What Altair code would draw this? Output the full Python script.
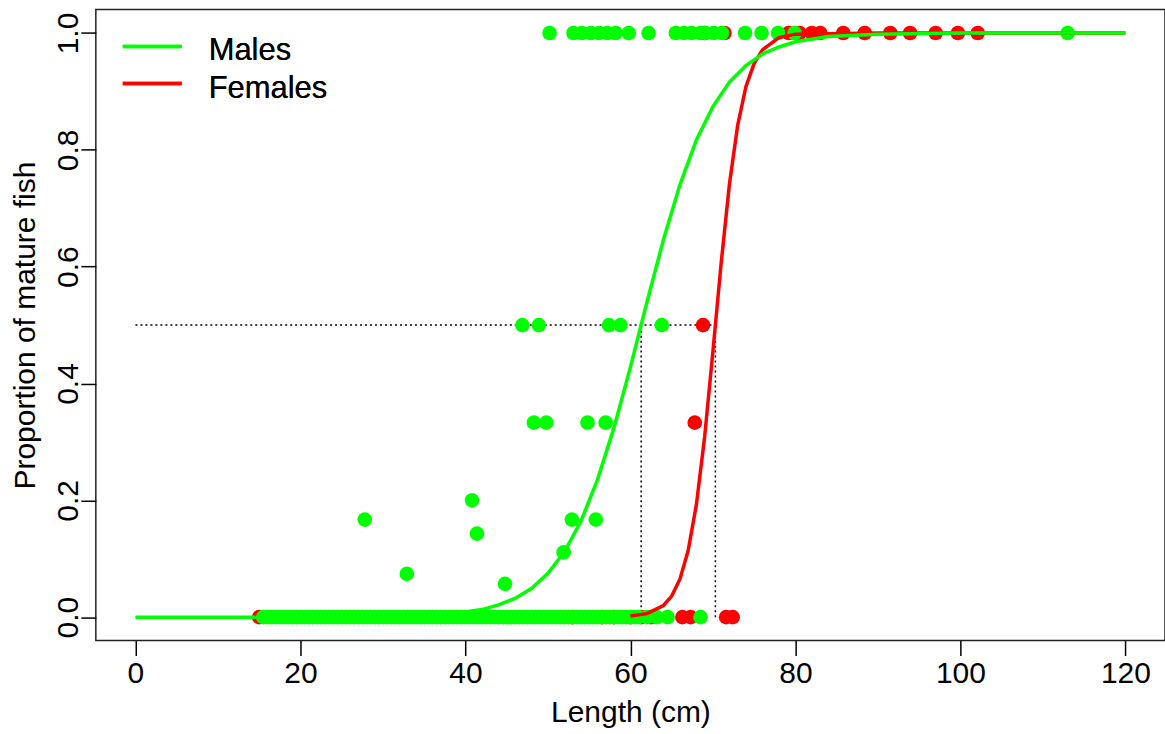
import altair as alt
import pandas as pd

# ---- maturity observations (proportion mature per length class) ----
male_len_zero = [15.5, 16.0, 16.5, 17.0, 17.5, 18.0, 18.5, 19.0, 19.5, 20.0, 20.5, 21.0, 21.5, 22.0,
                 22.5, 23.0, 23.5, 24.0, 24.5, 25.0, 25.5, 26.0, 26.5, 27.0, 27.5, 28.0, 28.5, 29.0,
                 29.5, 30.0, 30.5, 31.0, 31.5, 32.0, 32.5, 33.0, 33.5, 34.0, 34.5, 35.0, 35.5, 36.0,
                 36.5, 37.0, 37.5, 38.0, 38.5, 39.0, 39.5, 40.0, 40.5, 41.0, 41.5, 42.0, 42.5, 43.0,
                 43.5, 44.0, 44.5, 45.0, 45.5, 46.0, 46.5, 47.0, 47.5, 48.0, 48.5, 49.0, 49.5, 50.0,
                 50.5, 51.0, 51.5, 52.0, 52.5, 53.0, 53.5, 54.0, 54.5, 55.0, 55.5, 56.0, 56.5, 57.0,
                 57.5, 58.0, 58.5, 59.0, 59.5, 60.0, 60.5, 61.0, 62.0, 63.2, 64.5, 68.5]
male_len_one = [50.2, 53.1, 54.1, 55.2, 56.2, 57.2, 58.2, 59.8, 62.2, 65.5, 66.5, 67.4, 68.5, 69.1,
                70.1, 71.1, 73.9, 75.9, 77.9, 79.9, 113.0]
male_len_mid = [46.9, 48.9, 57.4, 58.8, 63.8, 48.3, 49.8, 54.8, 57.0,
                27.8, 40.8, 41.4, 32.9, 44.8, 52.9, 51.9, 55.8]
male_prop_mid = [0.5, 0.5, 0.5, 0.5, 0.5, 0.333, 0.333, 0.333, 0.333,
                 0.167, 0.2, 0.143, 0.074, 0.057, 0.167, 0.111, 0.167]

female_len_zero = [15.0, 53.0, 56.6, 58.0, 60.0, 61.3, 62.5, 66.3, 67.3, 71.6, 72.4]
female_len_one = [69.0, 71.4, 79.2, 80.5, 82.0, 83.0, 85.8, 88.4, 91.5, 93.9, 97.0, 99.7, 102.1]
female_len_mid = [68.8, 67.8]
female_prop_mid = [0.5, 0.333]

# ---- fitted maturity ogives ----
male_curve_len = [0, 10, 20, 30, 36, 40, 42, 44, 46, 48, 50, 52, 54, 56, 58, 60, 62, 64, 66, 68,
                  70, 72, 74, 76, 78, 80, 84, 90, 100, 110, 120]
male_curve_p = [0.000, 0.000, 0.000, 0.001, 0.004, 0.009, 0.013, 0.021, 0.032, 0.049, 0.075, 0.112,
                0.164, 0.235, 0.324, 0.428, 0.539, 0.646, 0.740, 0.817, 0.874, 0.916, 0.944, 0.964,
                0.976, 0.985, 0.994, 0.998, 1.000, 1.000, 1.000]
# female ogive: flat at zero (hidden under the male band) until ~60 cm
female_curve_len = [60, 62, 64, 65, 66, 67, 68, 69, 70, 71, 72, 73, 74, 75, 76, 78,
                    80, 90, 100, 120]
female_curve_p = [0.002, 0.006, 0.020, 0.036, 0.065, 0.114, 0.193, 0.309,
                  0.455, 0.606, 0.741, 0.842, 0.908, 0.948, 0.971, 0.992, 0.998, 1.000, 1.000, 1.000]

# ---- length at 50% maturity ----
l50_male = 61.3
l50_female = 70.3

FONT = "Liberation Sans"
GREEN = "#00FF00"
RED = "#FF0000"

males_pts = pd.DataFrame({
    "length": male_len_zero + male_len_one + male_len_mid,
    "prop": [0.0] * len(male_len_zero) + [1.0] * len(male_len_one) + male_prop_mid,
})
females_pts = pd.DataFrame({
    "length": female_len_zero + female_len_one + female_len_mid,
    "prop": [0.0] * len(female_len_zero) + [1.0] * len(female_len_one) + female_prop_mid,
})
males_fit = pd.DataFrame({"length": male_curve_len, "prop": male_curve_p})
females_fit = pd.DataFrame({"length": female_curve_len, "prop": female_curve_p})
ref_lines = pd.DataFrame({
    "x": [0.0, l50_male, l50_female],
    "x2": [l50_female, l50_male, l50_female],
    "y": [0.5, 0.0, 0.0],
    "y2": [0.5, 0.5, 0.5],
})

xscale = alt.Scale(domain=[-4.8, 124.8], nice=False, zero=False)
yscale = alt.Scale(domain=[-0.04, 1.04], nice=False, zero=False)

xaxis = alt.Axis(
    values=[0, 20, 40, 60, 80, 100, 120], title="Length (cm)", grid=False, domain=False,
    tickSize=15, tickWidth=1.5, tickColor="black", labelPadding=3,
    labelFont=FONT, labelFontSize=30, labelColor="black", labelBaseline="top",
    titleFont=FONT, titleFontSize=30, titleFontWeight="normal", titleColor="black",
    titleBaseline="alphabetic", titleY=81,
)
yaxis = alt.Axis(
    values=[0, 0.2, 0.4, 0.6, 0.8, 1.0], format=".1f", title="Proportion of mature fish",
    grid=False, domain=False, tickSize=15, tickWidth=1.5, tickColor="black", labelPadding=3,
    labelFont=FONT, labelFontSize=30, labelColor="black", labelAngle=270,
    labelAlign="center", labelBaseline="alphabetic",
    titleFont=FONT, titleFontSize=30, titleFontWeight="normal", titleColor="black",
    titleAngle=270, titleBaseline="alphabetic", titleAlign="center", titleX=-61, titleY=316,
)

refs = alt.Chart(ref_lines).mark_rule(color="black", strokeWidth=1.5, strokeDash=[2, 3]).encode(
    x=alt.X("x:Q", scale=xscale, axis=xaxis),
    x2="x2:Q",
    y=alt.Y("y:Q", scale=yscale, axis=yaxis),
    y2="y2:Q",
)

def points(df, color):
    return alt.Chart(df).mark_circle(size=215, opacity=1, color=color).encode(
        x=alt.X("length:Q", scale=xscale),
        y=alt.Y("prop:Q", scale=yscale),
    )

def curve(df, color):
    return alt.Chart(df).mark_line(color=color, strokeWidth=3.5).encode(
        x=alt.X("length:Q", scale=xscale),
        y=alt.Y("prop:Q", scale=yscale),
        order="length:Q",
    )

# legend drawn in pixel space at the upper left of the panel
legend_rows = pd.DataFrame({"label": ["Males", "Females"]})
leg_m_line = alt.Chart(legend_rows).mark_rule(color=GREEN, strokeWidth=3.5).encode(
    x=alt.value(27), x2=alt.value(86), y=alt.value(37)
)
leg_f_line = alt.Chart(legend_rows).mark_rule(color=RED, strokeWidth=3.5).encode(
    x=alt.value(27), x2=alt.value(86), y=alt.value(74)
)
leg_m_text = alt.Chart(legend_rows).mark_text(
    font=FONT, fontSize=31, align="left", baseline="alphabetic", color="black"
).encode(x=alt.value(113), y=alt.value(50), text=alt.value("Males"))
leg_f_text = alt.Chart(legend_rows).mark_text(
    font=FONT, fontSize=31, align="left", baseline="alphabetic", color="black"
).encode(x=alt.value(113), y=alt.value(89), text=alt.value("Females"))

chart = alt.layer(
    refs,
    points(females_pts, RED),
    points(males_pts, GREEN),
    curve(females_fit, RED),
    curve(males_fit, GREEN),
    leg_m_line, leg_f_line, leg_m_text, leg_f_text,
).properties(
    width=1071, height=632,
    autosize=alt.AutoSizeParams(type="none"),
    padding={"left": 96, "top": 9, "right": 0, "bottom": 93},
    background="white",
).configure_view(stroke="#222222", strokeWidth=1.5)

chart.save("out.html", embed_options={"renderer": "svg", "actions": False})
